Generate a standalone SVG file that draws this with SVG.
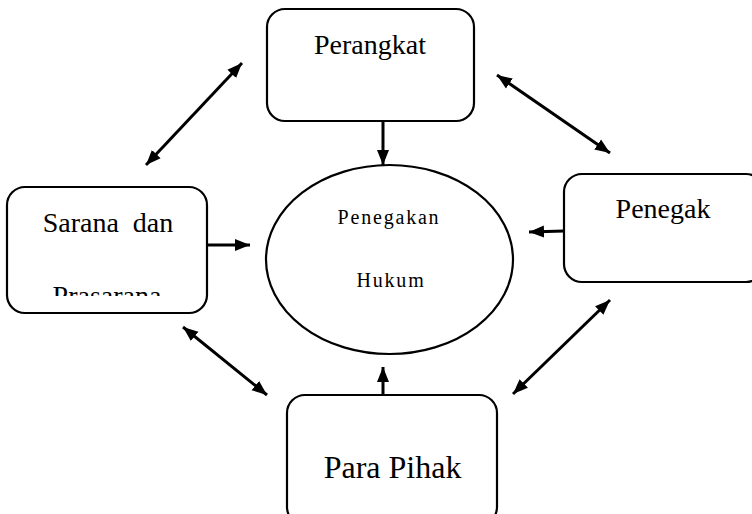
<svg xmlns="http://www.w3.org/2000/svg" width="752" height="514" viewBox="0 0 752 514">
<style>
.box{fill:#fff;stroke:#000;stroke-width:2.2}
.t{fill:#000;text-anchor:middle}
.c{stroke:#000;stroke-width:3;fill:none}
</style>
<defs>
<marker id="ah" markerUnits="userSpaceOnUse" markerWidth="17" markerHeight="14" refX="15" refY="7" orient="auto-start-reverse" viewBox="0 0 17 14">
<path d="M0,1 L15,7 L0,13 Z" fill="#000"/>
</marker>
<clipPath id="clipS"><rect x="0" y="180" width="220" height="116"/></clipPath>
</defs>
<rect width="752" height="514" fill="#fff"/>
<g id="connectors">
<line class="c" x1="383" y1="121" x2="383" y2="165" marker-end="url(#ah)"/>
<line class="c" x1="207" y1="245" x2="250" y2="245" marker-end="url(#ah)"/>
<line class="c" x1="564" y1="231" x2="529" y2="232" marker-end="url(#ah)"/>
<line class="c" x1="383" y1="395" x2="383" y2="367" marker-end="url(#ah)"/>
<line class="c" x1="146" y1="165" x2="242" y2="63" marker-start="url(#ah)" marker-end="url(#ah)"/>
<line class="c" x1="497" y1="75" x2="610" y2="153" marker-start="url(#ah)" marker-end="url(#ah)"/>
<line class="c" x1="183" y1="327" x2="267" y2="395" marker-start="url(#ah)" marker-end="url(#ah)"/>
<line class="c" x1="513" y1="394" x2="610" y2="300" marker-start="url(#ah)" marker-end="url(#ah)"/>
</g>
<g font-family="'Liberation Serif', 'DejaVu Serif', serif">
<g id="perangkat">
<rect class="box" x="267" y="9" width="207" height="112" rx="18"/>
<text class="t" x="370" y="54" font-size="28">Perangkat</text>
</g>
<g id="penegakan-hukum">
<ellipse class="box" cx="389.5" cy="259.5" rx="123.5" ry="94.5"/>
<text class="t" x="389" y="224" font-size="20" letter-spacing="1.8">Penegakan</text>
<text class="t" x="391" y="287" font-size="20" letter-spacing="1.8">Hukum</text>
</g>
<g id="sarana">
<rect class="box" x="7" y="187" width="200" height="126" rx="18"/>
<text class="t" x="108" y="232" font-size="28" xml:space="preserve">Sarana  dan</text>
<text class="t" x="107" y="305" font-size="28" clip-path="url(#clipS)">Prasarana</text>
</g>
<g id="penegak">
<rect class="box" x="564" y="174" width="200" height="108" rx="18"/>
<text class="t" x="663" y="218" font-size="28">Penegak</text>
</g>
<g id="para-pihak">
<rect class="box" x="287" y="395" width="210" height="130" rx="18"/>
<text class="t" x="392.5" y="478" font-size="32">Para Pihak</text>
</g>
</g>
</svg>
